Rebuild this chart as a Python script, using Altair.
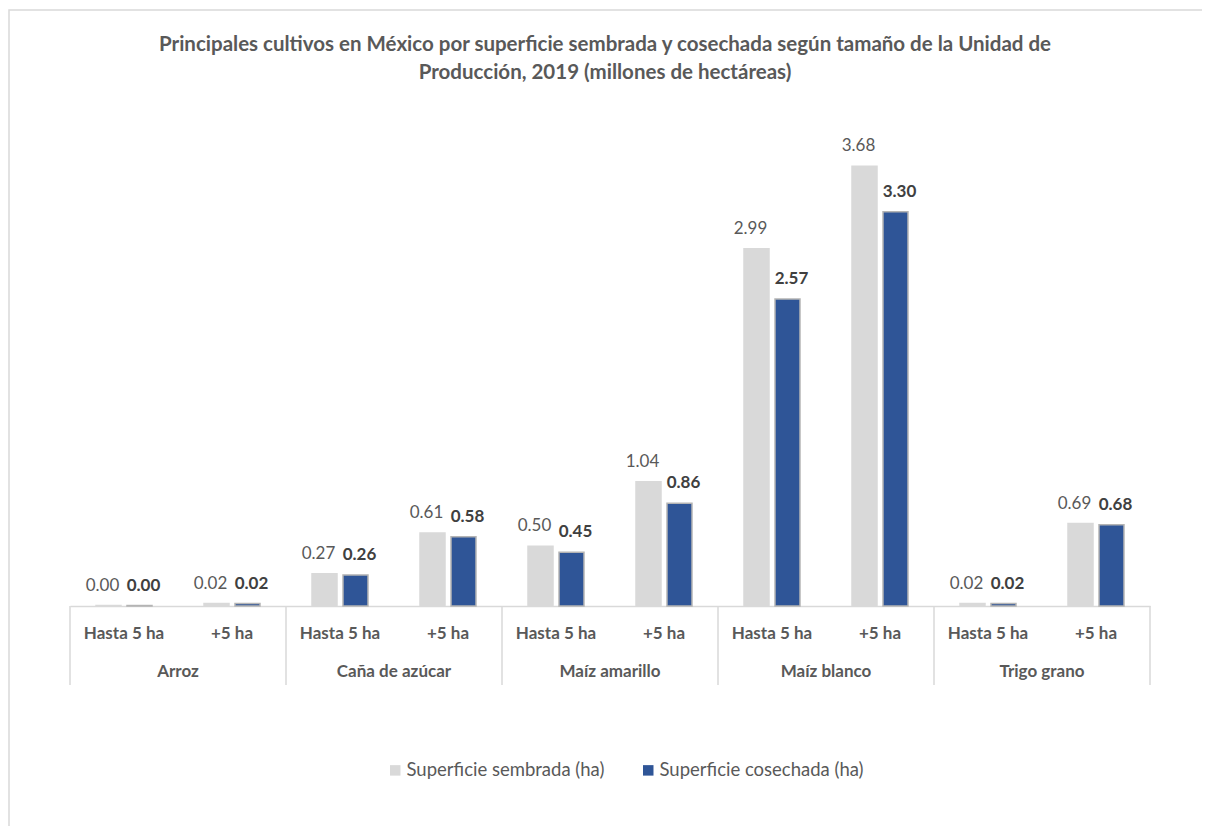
import altair as alt
import pandas as pd

cultivos = ["Arroz", "Caña de azúcar", "Maíz amarillo", "Maíz blanco", "Trigo grano"]
tamanos = ["Hasta 5 ha", "+5 ha"]
series = ["Superficie sembrada (ha)", "Superficie cosechada (ha)"]
sembrada = [0.004, 0.02, 0.27, 0.61, 0.50, 1.04, 2.99, 3.68, 0.02, 0.69]
cosechada = [0.004, 0.02, 0.26, 0.58, 0.45, 0.86, 2.57, 3.30, 0.02, 0.68]
colores = ["#D9D9D9", "#2F5597"]
bordes = ["#D9D9D9", "#B4B4B4"]

FONT = "Lato"
W, H = 1080, 478

keys = []
rows = []
i = 0
for c in cultivos:
    for t in tamanos:
        k = c + "|" + t
        keys.append(k)
        rows.append({"key": k, "cultivo": c, "tamano": t, "serie": series[0], "valor": sembrada[i]})
        rows.append({"key": k, "cultivo": c, "tamano": t, "serie": series[1], "valor": cosechada[i]})
        i += 1
df = pd.DataFrame(rows)

cat_df = pd.DataFrame({"cultivo": cultivos, "left": [c + "|" + tamanos[0] for c in cultivos],
                       "mid": [c + "|" + tamanos[1] for c in cultivos]})
end_df = pd.DataFrame({"k": [keys[-1]]})

xscale = alt.Scale(domain=keys, paddingInner=0, paddingOuter=0)
xoff_scale = alt.Scale(domain=series, paddingInner=0.194, paddingOuter=0.839)

x_enc = alt.X("key:N", scale=xscale, title=None,
              axis=alt.Axis(labelExpr="split(datum.value, '|')[1]", labelAngle=0, ticks=False,
                            labelBaseline="middle", labelPadding=27, labelFont=FONT,
                            labelFontSize=17, labelFontWeight="bold", labelColor="#595959",
                            domainColor="#D9D9D9", domainWidth=1.5, grid=False))
y_enc = alt.Y("valor:Q", scale=alt.Scale(domain=[0, 4]), axis=None)

bars = alt.Chart(df).mark_bar(strokeWidth=1.5).encode(
    x=x_enc,
    xOffset=alt.XOffset("serie:N", scale=xoff_scale),
    y=y_enc,
    color=alt.Color("serie:N", scale=alt.Scale(domain=series, range=colores),
                    legend=alt.Legend(title=None, orient="none", direction="horizontal",
                                      legendX=316, legendY=633, symbolType="square",
                                      symbolSize=110, symbolStrokeWidth=0,
                                      labelFont=FONT, labelFontSize=18.5, labelColor="#595959",
                                      labelOffset=2, columnPadding=34, labelLimit=400)),
    stroke=alt.Stroke("serie:N", scale=alt.Scale(domain=series, range=bordes), legend=None),
)

lab_s = alt.Chart(df).transform_filter(alt.datum.serie == series[0]).mark_text(
    baseline="middle", dy=-20, dx=-6, font=FONT, fontSize=17, color="#595959"
).encode(
    x=alt.X("key:N", scale=xscale),
    xOffset=alt.XOffset("serie:N", scale=xoff_scale),
    y=y_enc,
    text=alt.Text("valor:Q", format=".2f"),
)
lab_c = alt.Chart(df).transform_filter(alt.datum.serie == series[1]).mark_text(
    baseline="middle", dy=-20, dx=4, font=FONT, fontSize=17, fontWeight="bold", color="#404040"
).encode(
    x=alt.X("key:N", scale=xscale),
    xOffset=alt.XOffset("serie:N", scale=xoff_scale),
    y=y_enc,
    text=alt.Text("valor:Q", format=".2f"),
)

cat_text = alt.Chart(cat_df).mark_text(
    baseline="middle", font=FONT, fontSize=17, fontWeight="bold", color="#595959"
).encode(
    x=alt.X("mid:N", scale=xscale, bandPosition=0),
    y=alt.value(H + 66),
    text="cultivo:N",
)

sep_left = alt.Chart(cat_df).mark_rule(color="#D9D9D9", strokeWidth=1.5).encode(
    x=alt.X("left:N", scale=xscale, bandPosition=0),
    y=alt.value(H), y2=alt.value(H + 79),
)
sep_end = alt.Chart(end_df).mark_rule(color="#D9D9D9", strokeWidth=1.5).encode(
    x=alt.X("k:N", scale=xscale, bandPosition=1),
    y=alt.value(H), y2=alt.value(H + 79),
)

border = alt.Chart(pd.DataFrame({"b": [0]})).mark_rect(
    fill=None, stroke="#D9D9D9", strokeWidth=1.5
).encode(
    x=alt.value(-61), x2=alt.value(1300), y=alt.value(-118), y2=alt.value(800),
)

title = alt.TitleParams(
    text=["Principales cultivos en México por superficie sembrada y cosechada según tamaño de la Unidad de",
          "Producción, 2019 (millones de hectáreas)"],
    font=FONT, fontSize=20.5, fontWeight="bold", color="#595959", anchor="middle",
    lineHeight=28, offset=-74, dx=-5,
)

chart = alt.layer(border, bars, lab_s, lab_c, sep_left, sep_end, cat_text).properties(
    width=W, height=H, title=title, background="white",
    autosize=alt.AutoSizeParams(type="none"),
    padding={"left": 62, "top": 120, "right": 52, "bottom": 220},
).configure_view(strokeWidth=0)

chart.save("out.html", embed_options={"renderer": "svg", "actions": False})
